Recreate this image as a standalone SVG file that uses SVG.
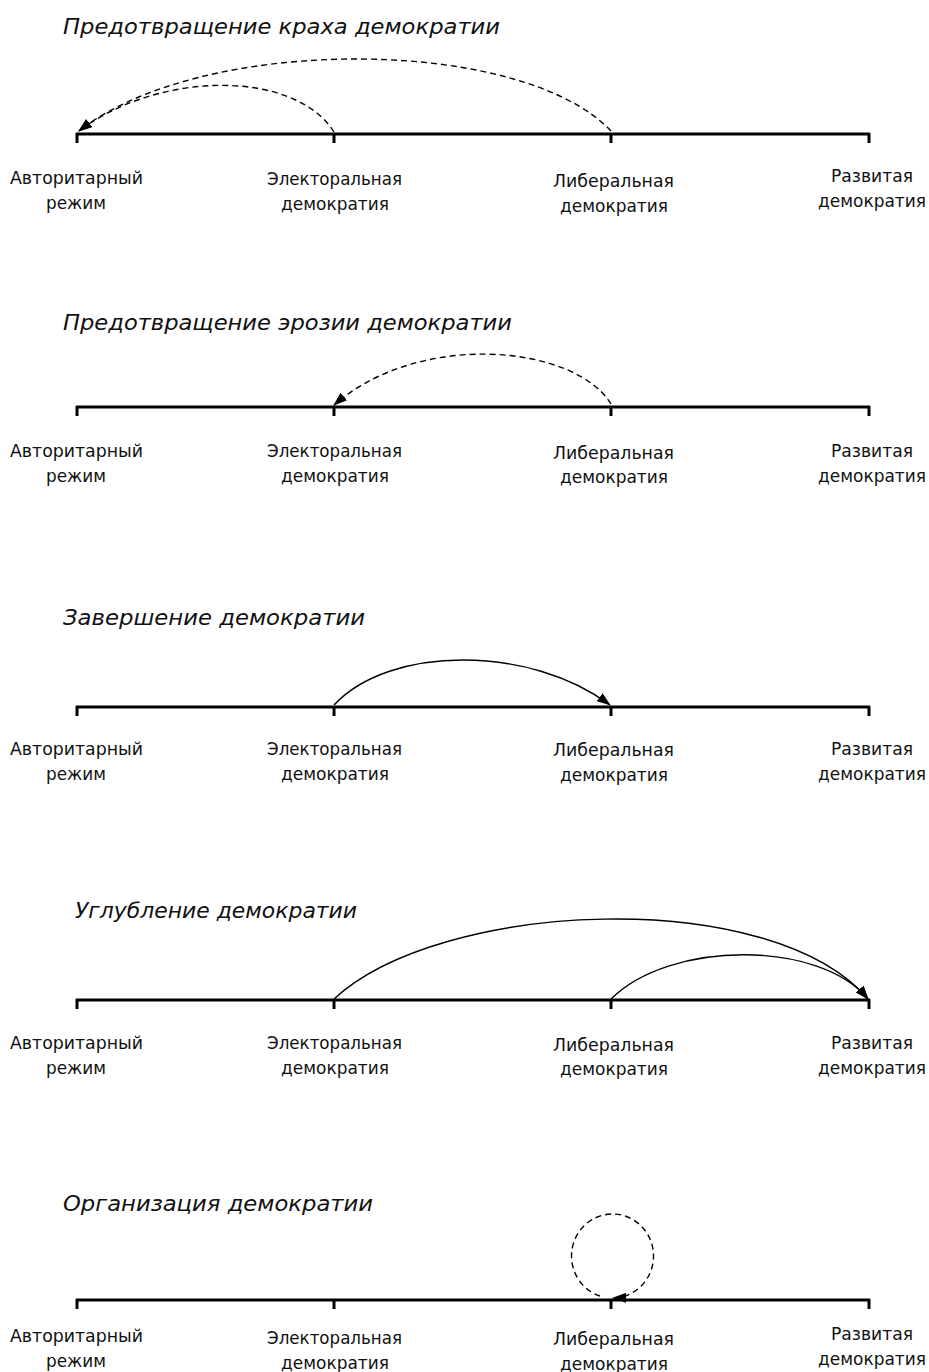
<svg xmlns="http://www.w3.org/2000/svg" width="929" height="1372" viewBox="0 0 929 1372">
<style>
.axis{stroke:#000;stroke-width:3;fill:none}
.tick{stroke:#000;stroke-width:3}
.title{font-family:"DejaVu Sans Condensed","DejaVu Sans",sans-serif;font-style:italic;font-size:22px;fill:#111}
.lbl{font-family:"DejaVu Sans Condensed","DejaVu Sans",sans-serif;font-size:18px;fill:#111;text-anchor:middle}
.arc{fill:none;stroke:#000;stroke-width:1.4}
.dash{stroke-dasharray:6 4}
</style>
<defs>
<marker id="ah" viewBox="0 0 14 10" refX="13" refY="5" markerWidth="14" markerHeight="10" markerUnits="userSpaceOnUse" orient="auto">
<path d="M0,0 L14,5 L0,10 z" fill="#000"/>
</marker>
</defs>
<rect width="929" height="1372" fill="#fff"/>

<!-- Panel 1 -->
<g id="panel1">
<text class="title" x="63" y="34" textLength="437" lengthAdjust="spacingAndGlyphs">Предотвращение краха демократии</text>
<line class="axis" x1="76" y1="134" x2="870" y2="134"/>
<g id="p1-auth"><line class="tick" x1="77" y1="133" x2="77" y2="143"/><text class="lbl" x="76.5" y="184" textLength="133" lengthAdjust="spacingAndGlyphs">Авторитарный</text><text class="lbl" x="76" y="209" textLength="60" lengthAdjust="spacingAndGlyphs">режим</text></g>
<g id="p1-elect"><line class="tick" x1="334" y1="133" x2="334" y2="143"/><text class="lbl" x="334.5" y="185" textLength="135" lengthAdjust="spacingAndGlyphs">Электоральная</text><text class="lbl" x="335" y="210" textLength="108" lengthAdjust="spacingAndGlyphs">демократия</text></g>
<g id="p1-lib"><line class="tick" x1="611" y1="133" x2="611" y2="143"/><text class="lbl" x="613.5" y="187" textLength="121" lengthAdjust="spacingAndGlyphs">Либеральная</text><text class="lbl" x="614" y="212" textLength="108" lengthAdjust="spacingAndGlyphs">демократия</text></g>
<g id="p1-dev"><line class="tick" x1="869" y1="133" x2="869" y2="143"/><text class="lbl" x="872" y="182" textLength="82" lengthAdjust="spacingAndGlyphs">Развитая</text><text class="lbl" x="872" y="207" textLength="108" lengthAdjust="spacingAndGlyphs">демократия</text></g>
</g>

<!-- Panel 2 -->
<g id="panel2">
<text class="title" x="63" y="330" textLength="449" lengthAdjust="spacingAndGlyphs">Предотвращение эрозии демократии</text>
<line class="axis" x1="76" y1="407" x2="870" y2="407"/>
<g id="p2-auth"><line class="tick" x1="77" y1="406" x2="77" y2="416"/><text class="lbl" x="76.5" y="457" textLength="133" lengthAdjust="spacingAndGlyphs">Авторитарный</text><text class="lbl" x="76" y="482" textLength="60" lengthAdjust="spacingAndGlyphs">режим</text></g>
<g id="p2-elect"><line class="tick" x1="334" y1="406" x2="334" y2="416"/><text class="lbl" x="334.5" y="457" textLength="135" lengthAdjust="spacingAndGlyphs">Электоральная</text><text class="lbl" x="335" y="482" textLength="108" lengthAdjust="spacingAndGlyphs">демократия</text></g>
<g id="p2-lib"><line class="tick" x1="611" y1="406" x2="611" y2="416"/><text class="lbl" x="613.5" y="459" textLength="121" lengthAdjust="spacingAndGlyphs">Либеральная</text><text class="lbl" x="614" y="483" textLength="108" lengthAdjust="spacingAndGlyphs">демократия</text></g>
<g id="p2-dev"><line class="tick" x1="869" y1="406" x2="869" y2="416"/><text class="lbl" x="872" y="457" textLength="82" lengthAdjust="spacingAndGlyphs">Развитая</text><text class="lbl" x="872" y="482" textLength="108" lengthAdjust="spacingAndGlyphs">демократия</text></g>
</g>

<!-- Panel 3 -->
<g id="panel3">
<text class="title" x="63" y="625" textLength="302" lengthAdjust="spacingAndGlyphs">Завершение демократии</text>
<line class="axis" x1="76" y1="707" x2="870" y2="707"/>
<g id="p3-auth"><line class="tick" x1="77" y1="706" x2="77" y2="716"/><text class="lbl" x="76.5" y="755" textLength="133" lengthAdjust="spacingAndGlyphs">Авторитарный</text><text class="lbl" x="76" y="780" textLength="60" lengthAdjust="spacingAndGlyphs">режим</text></g>
<g id="p3-elect"><line class="tick" x1="334" y1="706" x2="334" y2="716"/><text class="lbl" x="334.5" y="755" textLength="135" lengthAdjust="spacingAndGlyphs">Электоральная</text><text class="lbl" x="335" y="780" textLength="108" lengthAdjust="spacingAndGlyphs">демократия</text></g>
<g id="p3-lib"><line class="tick" x1="611" y1="706" x2="611" y2="716"/><text class="lbl" x="613.5" y="756" textLength="121" lengthAdjust="spacingAndGlyphs">Либеральная</text><text class="lbl" x="614" y="781" textLength="108" lengthAdjust="spacingAndGlyphs">демократия</text></g>
<g id="p3-dev"><line class="tick" x1="869" y1="706" x2="869" y2="716"/><text class="lbl" x="872" y="755" textLength="82" lengthAdjust="spacingAndGlyphs">Развитая</text><text class="lbl" x="872" y="780" textLength="108" lengthAdjust="spacingAndGlyphs">демократия</text></g>
</g>

<!-- Panel 4 -->
<g id="panel4">
<text class="title" x="75" y="918" textLength="282" lengthAdjust="spacingAndGlyphs">Углубление демократии</text>
<line class="axis" x1="76" y1="1000" x2="870" y2="1000"/>
<g id="p4-auth"><line class="tick" x1="77" y1="999" x2="77" y2="1009"/><text class="lbl" x="76.5" y="1049" textLength="133" lengthAdjust="spacingAndGlyphs">Авторитарный</text><text class="lbl" x="76" y="1074" textLength="60" lengthAdjust="spacingAndGlyphs">режим</text></g>
<g id="p4-elect"><line class="tick" x1="334" y1="999" x2="334" y2="1009"/><text class="lbl" x="334.5" y="1049" textLength="135" lengthAdjust="spacingAndGlyphs">Электоральная</text><text class="lbl" x="335" y="1074" textLength="108" lengthAdjust="spacingAndGlyphs">демократия</text></g>
<g id="p4-lib"><line class="tick" x1="611" y1="999" x2="611" y2="1009"/><text class="lbl" x="613.5" y="1051" textLength="121" lengthAdjust="spacingAndGlyphs">Либеральная</text><text class="lbl" x="614" y="1075" textLength="108" lengthAdjust="spacingAndGlyphs">демократия</text></g>
<g id="p4-dev"><line class="tick" x1="869" y1="999" x2="869" y2="1009"/><text class="lbl" x="872" y="1049" textLength="82" lengthAdjust="spacingAndGlyphs">Развитая</text><text class="lbl" x="872" y="1074" textLength="108" lengthAdjust="spacingAndGlyphs">демократия</text></g>
</g>

<!-- Panel 5 -->
<g id="panel5">
<text class="title" x="63" y="1211" textLength="310" lengthAdjust="spacingAndGlyphs">Организация демократии</text>
<line class="axis" x1="76" y1="1300" x2="870" y2="1300"/>
<g id="p5-auth"><line class="tick" x1="77" y1="1299" x2="77" y2="1309"/><text class="lbl" x="76.5" y="1342" textLength="133" lengthAdjust="spacingAndGlyphs">Авторитарный</text><text class="lbl" x="76" y="1367" textLength="60" lengthAdjust="spacingAndGlyphs">режим</text></g>
<g id="p5-elect"><line class="tick" x1="334" y1="1299" x2="334" y2="1309"/><text class="lbl" x="334.5" y="1344" textLength="135" lengthAdjust="spacingAndGlyphs">Электоральная</text><text class="lbl" x="335" y="1369" textLength="108" lengthAdjust="spacingAndGlyphs">демократия</text></g>
<g id="p5-lib"><line class="tick" x1="611" y1="1299" x2="611" y2="1309"/><text class="lbl" x="613.5" y="1345" textLength="121" lengthAdjust="spacingAndGlyphs">Либеральная</text><text class="lbl" x="614" y="1370" textLength="108" lengthAdjust="spacingAndGlyphs">демократия</text></g>
<g id="p5-dev"><line class="tick" x1="869" y1="1299" x2="869" y2="1309"/><text class="lbl" x="872" y="1340" textLength="82" lengthAdjust="spacingAndGlyphs">Развитая</text><text class="lbl" x="872" y="1365" textLength="108" lengthAdjust="spacingAndGlyphs">демократия</text></g>
</g>

<g id="connectors">
<path class="arc dash" d="M611,131 C520,35 200,35 79,131" marker-end="url(#ah)"/>
<path class="arc dash" d="M334,132 C295,70 160,70 79,131" marker-end="url(#ah)"/>
<path class="arc dash" d="M611,404 C575,345 420,330 334,405" marker-end="url(#ah)"/>
<path class="arc" d="M334,705 C390,645 530,645 610,705" marker-end="url(#ah)"/>
<path class="arc" d="M334,999 C440,900 770,885 868,999" marker-end="url(#ah)"/>
<path class="arc" d="M611,999 C670,940 820,940 868,999" marker-end="url(#ah)"/>
<path class="arc dash" d="M600,1296 A41 42 0 1 1 613,1298" marker-end="url(#ah)"/>
</g>
</svg>
